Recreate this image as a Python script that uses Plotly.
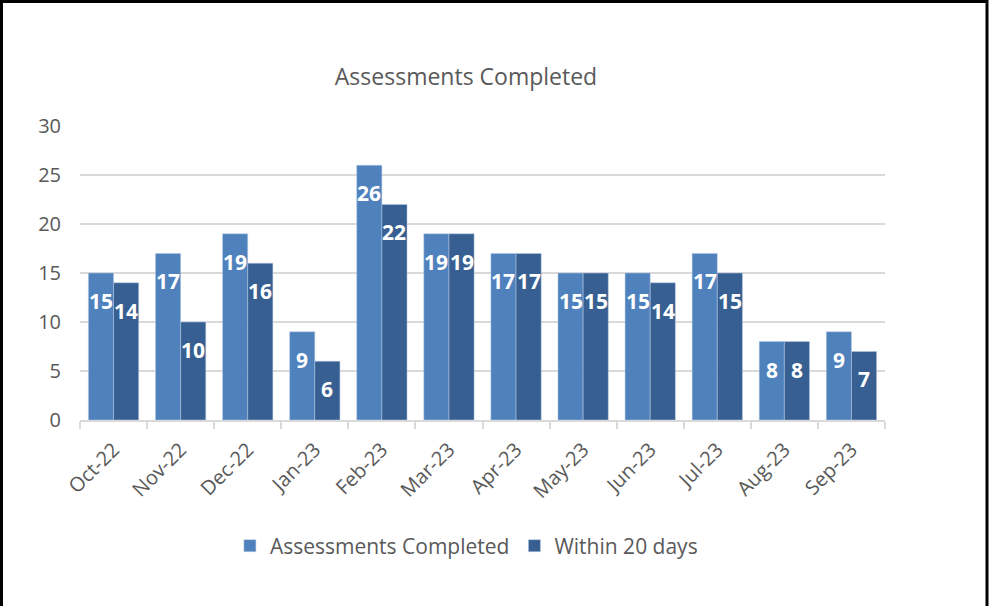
import plotly.graph_objects as go

months = ["Oct-22", "Nov-22", "Dec-22", "Jan-23", "Feb-23", "Mar-23",
          "Apr-23", "May-23", "Jun-23", "Jul-23", "Aug-23", "Sep-23"]
assessments = [15, 17, 19, 9, 26, 19, 17, 15, 15, 17, 8, 9]
within20 = [14, 10, 16, 6, 22, 19, 17, 15, 14, 15, 8, 7]
y_ticks = [0, 5, 10, 15, 20, 25, 30]

FONT = "Open Sans"
W, H = 1002, 606
L, R, T, B = 80, 885, 126, 420  # plot area in pixels
LABEL_SIZE = 21
BARGAP = 0.25
series = [
    ("Assessments Completed", assessments, "#4F81BD"),
    ("Within 20 days", within20, "#375F92"),
]

fig = go.Figure()
bar_w = (1 - BARGAP) / len(series)
for k, (name, vals, color) in enumerate(series):
    fig.add_trace(go.Bar(
        x=months, y=vals, name=name,
        marker=dict(color=color, line=dict(color="#B9CDE5", width=0.5)),
    ))
    off = -((1 - BARGAP) / 2) + bar_w * (k + 0.5)
    for i, v in enumerate(vals):
        fig.add_annotation(
            x=i + off, y=v, xref="x", yref="y", text=str(v), showarrow=False,
            yanchor="top", yshift=-12,
            font=dict(family=FONT, size=LABEL_SIZE, color="white", weight="bold"),
        )

def px_x(p):
    return (p - L) / (R - L)

def px_y(p):
    return (B - p) / (B - T)

fig.add_shape(type="rect", xref="paper", yref="paper",
              x0=px_x(1.5), x1=px_x(987), y0=px_y(640), y1=px_y(1.5),
              line=dict(color="black", width=3), fillcolor="rgba(0,0,0,0)")

fig.update_layout(
    width=W, height=H,
    margin=dict(l=L, r=W - R, t=T, b=H - B, autoexpand=False),
    paper_bgcolor="white", plot_bgcolor="white",
    barmode="group", bargap=BARGAP, bargroupgap=0,
    title=dict(text="Assessments Completed", x=466 / W, xanchor="center",
               y=1 - 77 / H, yanchor="middle", xref="container", yref="container",
               font=dict(family=FONT, size=23, color="#595959")),
    font=dict(family=FONT, color="#595959"),
    legend=dict(orientation="h", x=0.48, xanchor="center",
                y=px_y(546), yanchor="middle",
                font=dict(family=FONT, size=21, color="#595959"),
                itemwidth=30, traceorder="normal"),
    xaxis=dict(showline=True, linecolor="#D9D9D9", linewidth=2,
               ticks="outside", tickson="boundaries", ticklen=7,
               tickcolor="#D9D9D9", tickwidth=2, ticklabelstandoff=8,
               tickangle=-45, tickfont=dict(family=FONT, size=20, color="#595959"),
               showgrid=False),
    yaxis=dict(range=[0, 30], tickvals=y_ticks, showgrid=True,
               gridcolor="#D9D9D9", gridwidth=2, zeroline=False,
               showline=False, ticks="", ticklabelstandoff=18,
               tickfont=dict(family=FONT, size=20, color="#595959")),
)

fig.write_html("out.html", config={"displayModeBar": False},
               post_script="document.body.style.margin='0';document.body.style.padding='0';")
